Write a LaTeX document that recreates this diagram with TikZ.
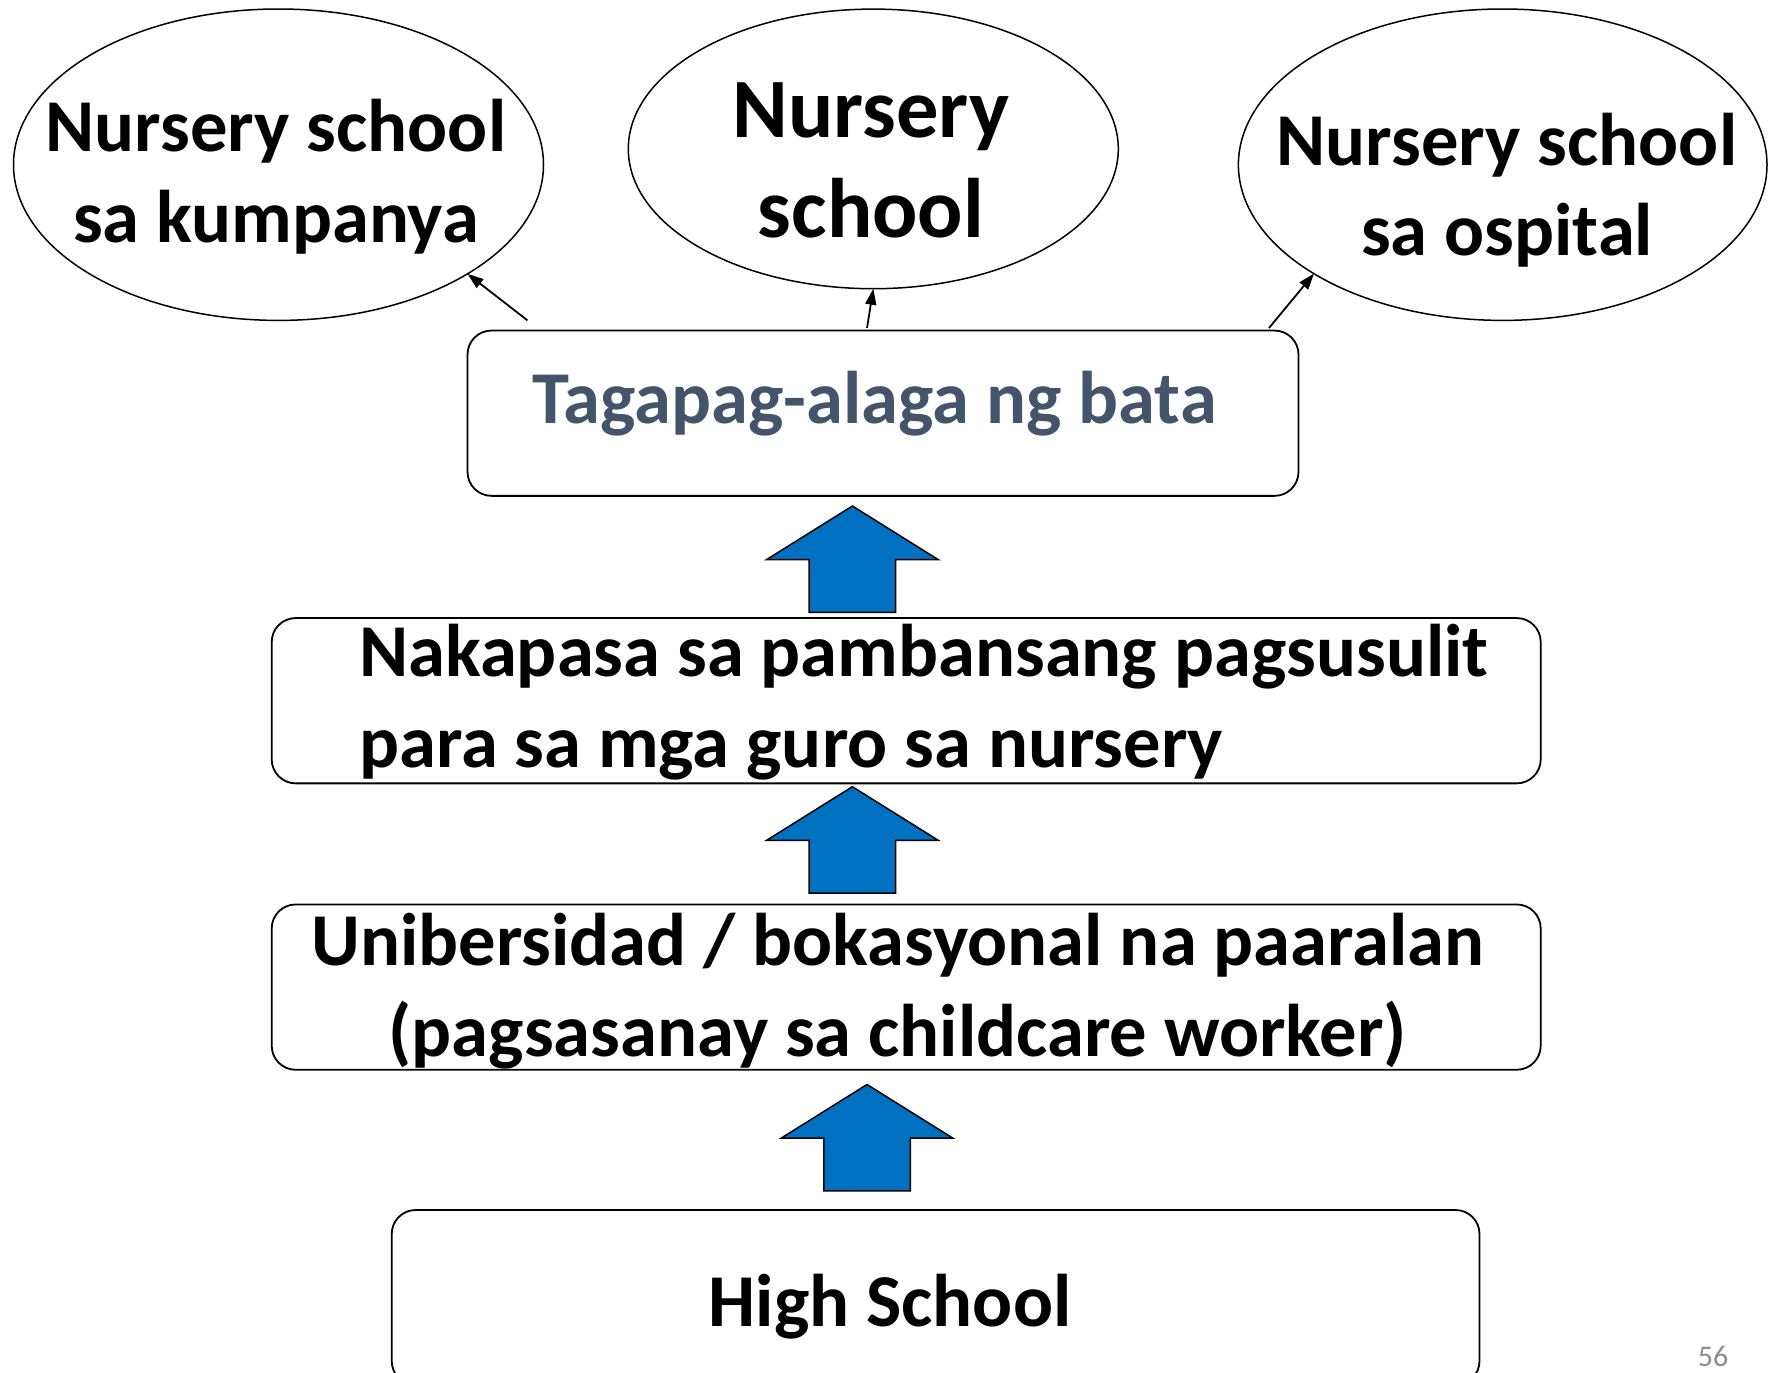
\documentclass[tikz,border=0pt]{standalone}
\usepackage{fontspec}
\setmainfont{Carlito}
\usetikzlibrary{shapes.geometric,shapes.arrows,arrows.meta}
\definecolor{arrowblue}{HTML}{0070C0}
\definecolor{titlegray}{HTML}{44546A}
\definecolor{pagegray}{HTML}{8C8C8C}
\begin{document}
\begin{tikzpicture}[x=1pt,y=1pt,
  oval/.style={ellipse, draw, line width=1.5pt, inner sep=0pt, outer sep=0pt},
  stage/.style={draw, rounded corners=24pt, line width=1.8pt, inner sep=0pt, outer sep=0pt},
  lbl/.style={anchor=base, inner sep=0pt, font=\bfseries\fontsize{74.6}{90.6}\selectfont},
  link/.style={-{Triangle[length=16pt,width=11pt]}, line width=1.8pt},
  blockarrow/.style={single arrow, draw, fill=arrowblue, line width=1.5pt, rotate=90,
    anchor=tip, inner xsep=0pt, inner ysep=42.5pt, outer sep=0pt,
    minimum height=106.4pt, single arrow head extend=42.5pt,
    single arrow tip angle=116}
]
\useasboundingbox (0,0) rectangle (1775,-1373);

% ovals
\node[oval, minimum width=530pt, minimum height=311.4pt] (e1) at (278.5,-164.7) {};
\node[oval, minimum width=490pt, minimum height=279.6pt] (e2) at (873.3,-148.9) {};
\node[oval, minimum width=528.6pt, minimum height=311.4pt] (e3) at (1502.7,-164.7) {};

\node[lbl] (t1) at (276,-151.7) {\begin{tabular}[t]{@{}c@{}}Nursery school\\sa kumpanya\end{tabular}};
\node[lbl, font=\bfseries\fontsize{84.5}{100.7}\selectfont] (t2) at (871,-137) {\begin{tabular}[t]{@{}c@{}}Nursery\\school\end{tabular}};
\node[lbl] (t3) at (1507,-165.3) {\begin{tabular}[t]{@{}c@{}}Nursery school\\sa ospital\end{tabular}};

% stage boxes
\node[stage, minimum width=831pt, minimum height=165.3pt] (bT) at (883,-413.2) {};
\node[stage, minimum width=1269pt, minimum height=165.3pt] (bN) at (906.2,-700.7) {};
\node[stage, minimum width=1269pt, minimum height=165.3pt] (bU) at (906.2,-987.1) {};
\node[stage, minimum width=1087.8pt, minimum height=175pt] (bH) at (935.6,-1297.5) {};

\node[lbl, text=titlegray] (tT) at (874.5,-423.5) {Tagapag-alaga ng bata};
\node[lbl, anchor=base west] (tN) at (359,-676.5) {\begin{tabular}[t]{@{}l@{}}Nakapasa sa pambansang pagsusulit\\para sa mga guro sa nursery\end{tabular}};
\node[lbl] (tU) at (897.7,-965.6) {\begin{tabular}[t]{@{}c@{}}Unibersidad / bokasyonal na paaralan\\(pagsasanay sa childcare worker)\end{tabular}};
\node[lbl] (tH) at (890,-1326.7) {High School};

% block arrows
\node[blockarrow] (a1) at (852.4,-506) {};
\node[blockarrow] (a2) at (852.4,-786.7) {};
\node[blockarrow] (a3) at (867,-1084.5) {};

% small connectors
\coordinate (s1) at (527.5,-320.4);
\coordinate (s2) at (867,-328);
\coordinate (s3) at (1269,-328);
\draw[link] (s1) -- (e1.-30);
\draw[link] (s2) -- (e2.south);
\draw[link] (s3) -- (e3.210);

% page number
\node[anchor=base, inner sep=0pt, text=pagegray, font=\fontsize{30}{36}\selectfont] (pg) at (1713,-1366) {56};
\end{tikzpicture}
\end{document}
